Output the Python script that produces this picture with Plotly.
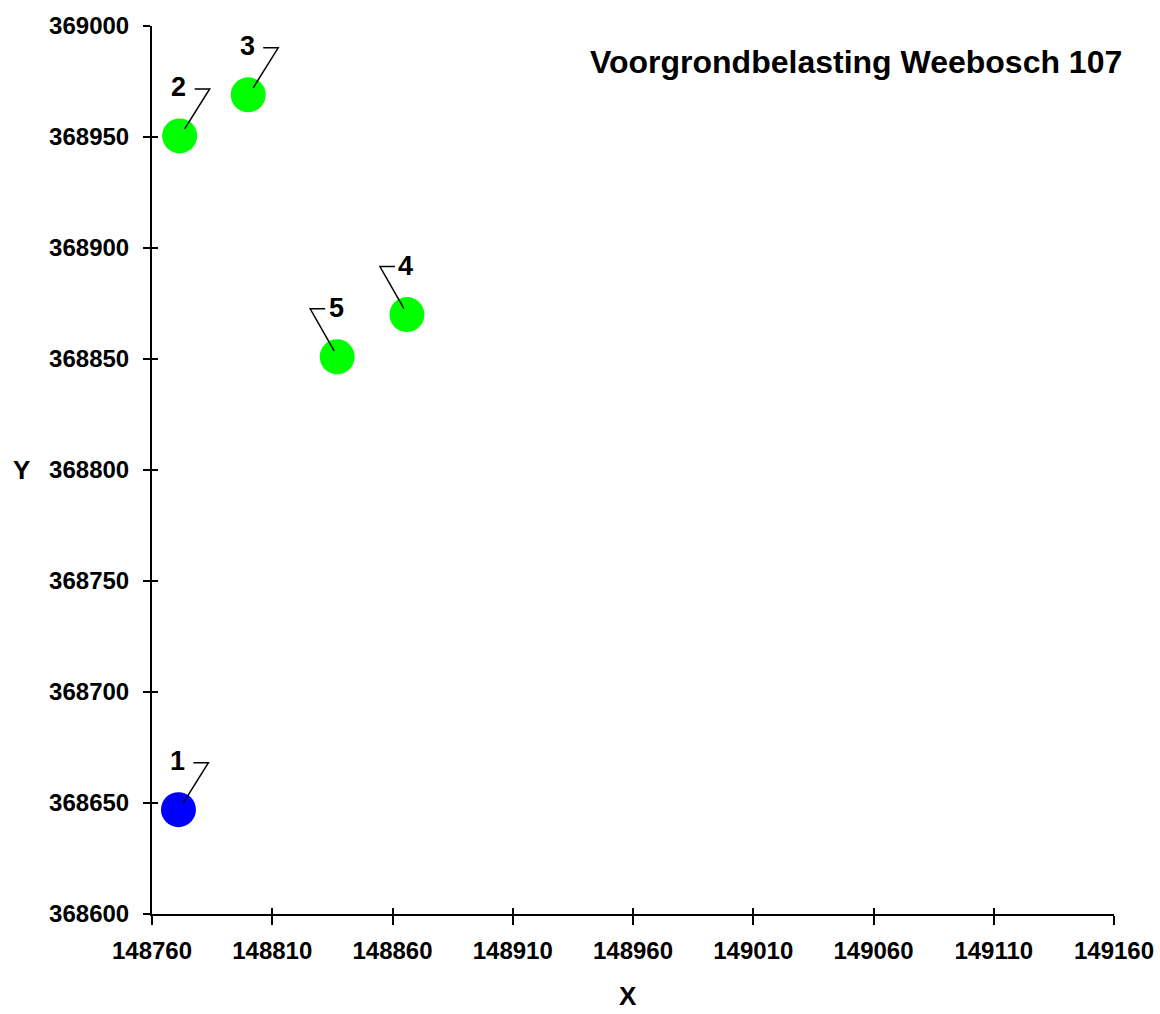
import plotly.graph_objects as go

# Data
labels = ["1", "2", "3", "4", "5"]
x_vals = [148771, 148771.5, 148800, 148866, 148837]
y_vals = [368647, 368950.5, 368969, 368870, 368851]
colors = ["#0000ff", "#00ff00", "#00ff00", "#00ff00", "#00ff00"]
x_ticks = [148760, 148810, 148860, 148910, 148960, 149010, 149060, 149110, 149160]
y_ticks = [368600, 368650, 368700, 368750, 368800, 368850, 368900, 368950, 369000]
title_text = "Voorgrondbelasting Weebosch 107"

FONT = "Liberation Sans, Arial, sans-serif"
xr = [148760, 149160]
yr = [368600, 369000]

fig = go.Figure()
fig.add_trace(go.Scatter(
    x=x_vals, y=y_vals, mode="markers",
    marker=dict(size=35, color=colors, line=dict(width=0)),
    showlegend=False, hoverinfo="x+y",
))
fig.add_trace(go.Scatter(x=[None], y=[None], xaxis="x2", yaxis="y2",
                         showlegend=False, hoverinfo="skip"))

# leader direction: right for 1-3, left for 4-5
direction = {"1": 1, "2": 1, "3": 1, "4": -1, "5": -1}
shapes = []
annotations = []
for lab, xv, yv in zip(labels, x_vals, y_vals):
    d = direction[lab]
    if d == 1:
        path = "M5,7 L30,47 L15,47"
    else:
        path = "M-3,6 L-27,48 L-12,48"
    shapes.append(dict(type="path", xref="x", yref="y", xsizemode="pixel",
                       ysizemode="pixel", xanchor=xv, yanchor=yv, path=path,
                       line=dict(color="black", width=1.5)))
    annotations.append(dict(x=xv, y=yv, xref="x", yref="y", text="<b>%s</b>" % lab,
                            showarrow=False, yshift=49, xshift=-1,
                            font=dict(family=FONT, size=27, color="black")))

annotations.append(dict(x=1, y=1, xref="paper", yref="paper",
                        xanchor="right", yanchor="middle", showarrow=False,
                        xshift=10, yshift=-36,
                        text="<b>%s</b>" % title_text,
                        font=dict(family=FONT, size=32, color="black")))
annotations.append(dict(x=0.4948, y=0, xref="paper", yref="paper",
                        xanchor="center", yanchor="middle", yshift=-82,
                        showarrow=False, text="<b>X</b>",
                        font=dict(family=FONT, size=26, color="black")))
annotations.append(dict(x=0, y=0.5, xref="paper", yref="paper",
                        xanchor="center", yanchor="middle", xshift=-131,
                        showarrow=False, text="<b>Y</b>",
                        font=dict(family=FONT, size=26, color="black")))

axis_common = dict(showgrid=False, zeroline=False, showline=True, linecolor="black",
                   linewidth=2, tickcolor="black", tickwidth=2, automargin=False,
                   tickfont=dict(family=FONT, size=24, color="black", weight="bold"))

fig.update_layout(
    width=1160, height=1014, autosize=False,
    margin=dict(l=152, r=46, t=26, b=100, autoexpand=False),
    plot_bgcolor="white", paper_bgcolor="white",
    xaxis=dict(range=xr, tickvals=x_ticks, ticktext=[str(v) for v in x_ticks],
               ticks="outside", ticklen=9, ticklabelstandoff=5, **axis_common),
    yaxis=dict(range=yr, tickvals=y_ticks, ticktext=[str(v) for v in y_ticks],
               ticks="outside", ticklen=7, ticklabelstandoff=9, **axis_common),
    xaxis2=dict(range=xr, tickvals=x_ticks, ticks="inside", ticklen=6,
                showticklabels=False, overlaying="x", anchor="y2",
                showgrid=False, zeroline=False, showline=False,
                tickcolor="black", tickwidth=2),
    yaxis2=dict(range=yr, tickvals=y_ticks, ticks="inside", ticklen=6,
                showticklabels=False, overlaying="y", anchor="x2",
                showgrid=False, zeroline=False, showline=False,
                tickcolor="black", tickwidth=2),
    shapes=shapes,
    annotations=annotations,
)

post = ("document.body.style.margin='0';"
        "document.body.style.overflow='hidden';"
        "Plotly.relayout('{plot_id}', {width:1160, height:1014});")
fig.write_html("out.html", post_script=post, config={"displayModeBar": False})
